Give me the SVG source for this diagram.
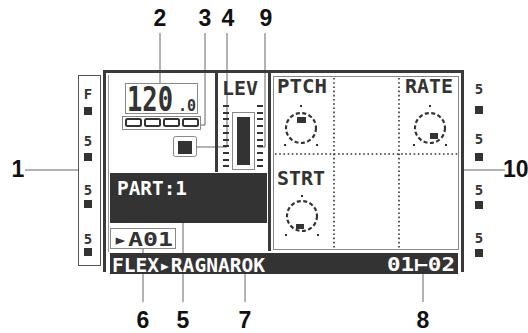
<svg xmlns="http://www.w3.org/2000/svg" width="528" height="333" viewBox="0 0 528 333">
<style>
.lead{stroke:#666;stroke-width:1;fill:none}
.num{font-family:"Liberation Sans",Arial,sans-serif;font-weight:bold;font-size:23px;fill:#111;text-anchor:middle}
.lcd{font-family:"DejaVu Sans Mono","Liberation Mono",monospace;font-weight:bold}
.dark{fill:#333}
.thin{fill:none;stroke:#888;stroke-width:1}
.dot{stroke:#333;stroke-width:1.6;stroke-dasharray:1.6 2.6;fill:none}
.ring{fill:none;stroke:#333;stroke-width:2.2;stroke-dasharray:4 2.5}
</style>
<rect width="528" height="333" fill="#fff"/>

<g id="connectors">
<path class="lead" d="M25 170H78"/>
<path class="lead" d="M462 170H505"/>
<path class="lead" d="M160 33V83"/>
<path class="lead" d="M205 33V125H200"/>
<path class="lead" d="M227 33V147H197"/>
<path class="lead" d="M265 33V147H258"/>
<path class="lead" d="M143 248V302"/>
<path class="lead" d="M183 223V302"/>
<path class="lead" d="M245 274V302"/>
<path class="lead" d="M423 274V302"/>
</g>

<g id="callouts">
<text class="num" x="160" y="26">2</text>
<text class="num" x="205" y="26">3</text>
<text class="num" x="228" y="26">4</text>
<text class="num" x="266" y="26">9</text>
<text class="num" x="18" y="177">1</text>
<text class="num" x="503" y="177" style="text-anchor:start">10</text>
<text class="num" x="143" y="328">6</text>
<text class="num" x="183" y="328">5</text>
<text class="num" x="245" y="328">7</text>
<text class="num" x="423" y="328">8</text>
</g>

<g id="left-strip">
<rect x="78.5" y="75.5" width="22" height="190" fill="none" stroke="#555"/>
<g class="lcd" font-size="14" fill="#333" text-anchor="middle">
<text x="88" y="99">F</text>
<text x="88" y="146">5</text>
<text x="88" y="195">5</text>
<text x="88" y="244">5</text>
</g>
<rect class="dark" x="84" y="107" width="8" height="8"/>
<rect class="dark" x="84" y="153" width="8" height="8"/>
<rect class="dark" x="84" y="200" width="8" height="8"/>
<rect class="dark" x="84" y="248" width="8" height="8"/>
</g>

<g id="right-strip">
<g class="lcd" font-size="14" fill="#333" text-anchor="middle">
<text x="479" y="94">5</text>
<text x="479" y="144">5</text>
<text x="479" y="195">5</text>
<text x="479" y="243">5</text>
</g>
<rect class="dark" x="475" y="106" width="8" height="8"/>
<rect class="dark" x="475" y="153" width="8" height="8"/>
<rect class="dark" x="475" y="201" width="8" height="8"/>
<rect class="dark" x="475" y="249" width="8" height="8"/>
</g>

<g id="frame">
<rect x="103" y="70" width="361" height="3" fill="#3a3a3a"/>
<rect x="103" y="70" width="3" height="202" fill="#3a3a3a"/>
<rect x="461" y="70" width="3" height="202" fill="#3a3a3a"/>
<line x1="108.5" y1="75" x2="108.5" y2="252" stroke="#999"/>
<rect x="215" y="73" width="3" height="99" fill="#3a3a3a"/>
<rect x="268" y="73" width="3" height="178" fill="#3a3a3a"/>
</g>

<g id="tempo">
<rect class="thin" x="125.5" y="83.5" width="72" height="30"/>
<text class="lcd" transform="translate(127,111) scale(1,1.3)" font-size="25.5" fill="#333" textLength="46" lengthAdjust="spacingAndGlyphs">120</text>
<text class="lcd" x="178" y="111" font-size="16" fill="#333" textLength="18" lengthAdjust="spacingAndGlyphs">.0</text>
</g>

<g id="pattern-boxes">
<rect class="thin" x="122.5" y="116.5" width="78" height="13"/>
<g fill="#fff" stroke="#333" stroke-width="2">
<rect x="126" y="119" width="15" height="7" rx="1.5"/>
<rect x="145" y="119" width="15" height="7" rx="1.5"/>
<rect x="164" y="119" width="15" height="7" rx="1.5"/>
<rect x="183" y="119" width="15" height="7" rx="1.5"/>
</g>
</g>

<g id="square">
<rect class="thin" x="173.5" y="136.5" width="23" height="20" rx="2"/>
<rect class="dark" x="178" y="141" width="14" height="13"/>
</g>

<g id="lev">
<text class="lcd" x="222" y="95" font-size="19" fill="#333" textLength="36" lengthAdjust="spacingAndGlyphs">LEV</text>
<g stroke="#333" stroke-width="2">
<path d="M223 106h6M223 113h6M223 119h6M223 126h6M223 133h6M223 140h6M223 146h6M223 153h6M223 160h6M223 166h6"/>
<path d="M257 106h6M257 113h6M257 119h6M257 126h6M257 133h6M257 140h6M257 146h6M257 153h6M257 160h6M257 166h6"/>
</g>
<rect class="thin" x="232.5" y="112.5" width="22" height="57"/>
<rect class="dark" x="237" y="117" width="13" height="48"/>
</g>

<g id="part">
<rect x="110" y="173" width="157" height="50" fill="#333"/>
<text class="lcd" x="117" y="195" font-size="19" fill="#fff" textLength="70" lengthAdjust="spacingAndGlyphs">PART:1</text>
</g>

<g id="pattern-id">
<rect class="thin" x="110.5" y="228.5" width="65" height="20"/>
<text class="lcd" x="113" y="246" font-size="19" fill="#333" textLength="60" lengthAdjust="spacingAndGlyphs">▸A01</text>
</g>

<g id="bottom-bar">
<rect x="110" y="253" width="348" height="21" fill="#333"/>
<text class="lcd" x="112" y="272" font-size="19" fill="#fff" textLength="153" lengthAdjust="spacingAndGlyphs">FLEX▸RAGNAROK</text>
<text class="lcd" x="387" y="271" font-size="19" fill="#fff" textLength="68" lengthAdjust="spacingAndGlyphs">01⊢02</text>
</g>

<g id="knob-panel">
<rect class="thin" x="273.5" y="76.5" width="185" height="173" stroke="#666"/>
<line class="dot" x1="334" y1="78" x2="334" y2="248"/>
<line class="dot" x1="399" y1="78" x2="399" y2="248"/>
<line class="dot" x1="275" y1="154" x2="458" y2="154"/>
</g>

<g id="knob-ptch">
<text class="lcd" x="277" y="93" font-size="19" fill="#333" textLength="50" lengthAdjust="spacingAndGlyphs">PTCH</text>
<circle class="ring" cx="301" cy="128" r="15"/>
<rect class="dark" x="300" y="105" width="2" height="2"/>
<rect class="dark" x="284" y="144" width="2" height="2"/>
<rect class="dark" x="316" y="144" width="2" height="2"/>
<rect class="dark" x="297" y="117" width="9" height="6"/>
</g>

<g id="knob-rate">
<text class="lcd" x="405" y="93" font-size="19" fill="#333" textLength="48" lengthAdjust="spacingAndGlyphs">RATE</text>
<circle class="ring" cx="430" cy="128" r="15"/>
<rect class="dark" x="429" y="105" width="2" height="2"/>
<rect class="dark" x="413" y="144" width="2" height="2"/>
<rect class="dark" x="445" y="144" width="2" height="2"/>
<rect class="dark" x="430" y="133" width="8" height="6"/>
</g>

<g id="knob-strt">
<text class="lcd" x="277" y="185" font-size="19" fill="#333" textLength="48" lengthAdjust="spacingAndGlyphs">STRT</text>
<circle class="ring" cx="302" cy="216" r="15"/>
<rect class="dark" x="301" y="195" width="2" height="2"/>
<rect class="dark" x="285" y="234" width="2" height="2"/>
<rect class="dark" x="317" y="234" width="2" height="2"/>
<rect class="dark" x="296" y="224" width="8" height="5"/>
</g>
</svg>
